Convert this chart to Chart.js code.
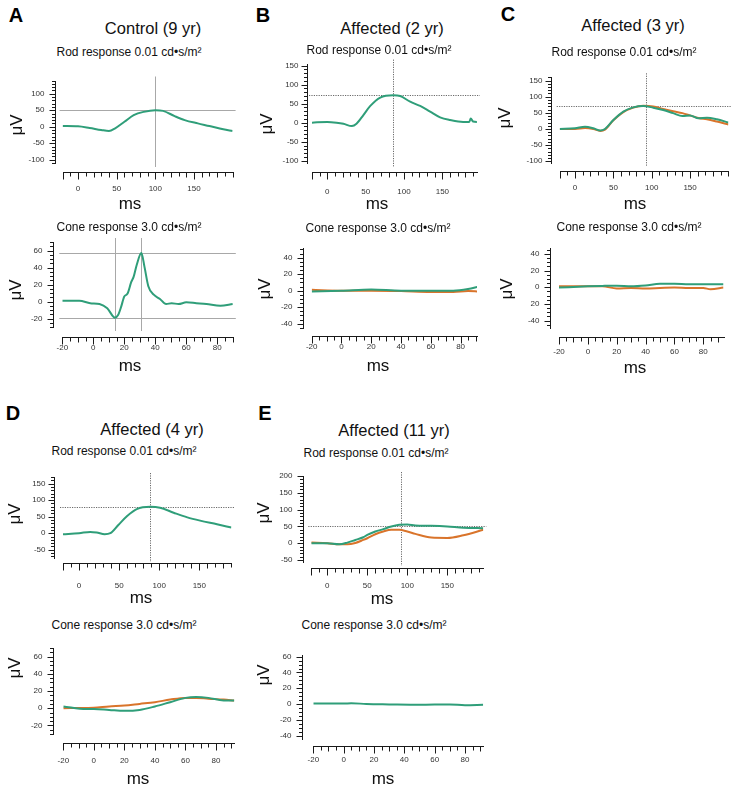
<!DOCTYPE html>
<html>
<head>
<meta charset="utf-8">
<script src="https://cdn.jsdelivr.net/npm/chart.js@4.4.0/dist/chart.umd.min.js"></script>
<style>
  body { margin: 0; background: #fff; width: 738px; height: 806px; position: relative; overflow: hidden;
         font-family: "Liberation Sans", Arial, Helvetica, sans-serif; color: #111; }
  canvas { position: absolute; }
  .lbl { position: absolute; white-space: nowrap; line-height: 1; transform: translate(-50%, -50%); }
  .letter { font-size: 20px; font-weight: bold; color: #000; }
  .title { font-size: 16.5px; }
  .sub { font-size: 12px; }
  .uv { font-size: 17px; transform: translate(-50%, -50%) rotate(-90deg); }
  .ms { font-size: 17px; }
</style>
</head>
<body>
<script>
// --- Data ---

// A: control, rod + cone
const aRodMs    = [-20, 0, 15, 30, 40, 48, 60, 72, 85, 100, 110, 125, 138, 155, 170, 188, 200];
const aRodGreen = [2, 1, -4, -10, -13, -5, 15, 35, 45, 50, 48, 32, 20, 10, 2, -8, -13];
const aConeMs    = [-20, -9, -2, 4, 9, 14, 16, 18, 20, 22, 24.5, 26, 28, 31, 33, 35.5, 39, 43, 47, 50.5, 55, 60, 66.5, 73, 82, 90];
const aConeGreen = [1, 1, -2, -3, -8, -19, -16, -6, 6, 9, 23, 29, 43, 57, 41, 18, 8, 3, -3, -2, -3, -1, -2, -3, -5, -3];

// B: affected 2 yr
const bRodMs    = [-20, 0, 12, 21, 32, 38, 47, 56, 69, 86, 95, 108, 121, 134, 147, 160, 177, 185, 187, 190, 196];
const bRodGreen = [0, 2, 0, -3, -9, -3, 20, 44, 66, 72, 70, 55, 44, 29, 14, 7, 2, 2, 11, 3, 2];
const bConeMs     = [-20, 0, 20, 40, 60, 75, 85, 92];
const bConeGreen  = [-1, 0, 1.5, 0, 0, 0, 2, 5];
const bConeOrange = [1, 0, 0, -0.5, -1.5, -1.5, -0.5, -1];

// C: affected 3 yr
const cRodMs     = [-20, 0, 13, 24, 33, 39, 50, 63, 76, 89, 102, 115, 128, 140, 150, 161, 172, 185, 200];
const cRodGreen  = [0, 2, 7, 2, -5, 0, 28, 54, 67, 71, 66, 59, 49, 40, 42, 33, 35, 30, 20];
const cRodOrange = [0, 0, 3, 0, -6, -2, 27, 52, 66, 72, 70, 62, 55, 49, 42, 34, 30, 23, 14];
const cConeMs     = [-20, 0, 10, 20, 30, 40, 50, 60, 70, 80, 85, 94];
const cConeGreen  = [-0.5, 1, 1.5, 1.8, 1, 2, 4, 4, 3.5, 3.5, 3.5, 3.5];
const cConeOrange = [1, 1, 1, -1.5, -1, -1.5, -1, -0.5, -1, -1, -2.5, -0.5];

// D: affected 4 yr
const dRodMs    = [-20, 0, 14, 22, 32, 39, 49, 60, 72, 89, 101, 118, 135, 151, 172, 190];
const dRodGreen = [-3, 0, 4, 2, -3, 0, 25, 52, 73, 80, 77, 62, 48, 38, 27, 17];
const dConeMs     = [-20, -5, 0, 10, 20, 30, 40, 50, 60, 67, 75, 85, 92];
const dConeGreen  = [2, -1, -1, -2, -3, -2, 2, 7, 12, 13, 12, 9, 9];
const dConeOrange = [0, 0.3, 0.5, 2, 3, 5, 7, 10, 12, 12, 11, 10, 9];

// E: affected 11 yr
const eRodMs     = [-20, 0, 15, 25, 35, 45, 50, 60, 70, 80, 90, 100, 110, 130, 150, 170, 195];
const eRodGreen  = [0, 0, -3, 2, 10, 18, 25, 35, 42, 50, 55, 56, 53, 52, 50, 46, 45];
const eRodOrange = [2, 0, -3, -3, 1, 10, 15, 27, 35, 40, 40, 35, 28, 17, 16, 24, 40];
const eConeMs    = [-20, 0, 5, 15, 30, 50, 70, 80, 92];
const eConeGreen = [0.5, 0.5, 1, 0, -0.5, -1, -0.5, -1.5, -1];

// crosshair markers (ms, µV)
const aRodCrossX = [100], aRodCrossY = [50];
const aConeCrossX = [14, 31], aConeCrossY = [57.5, -19];
const bRodCrossX = [86], bRodCrossY = [72];
const cRodCrossX = [92], cRodCrossY = [70];
const dRodCrossX = [89], dRodCrossY = [80];
const eRodCrossX = [92], eRodCrossY = [50];

// tick labels
const rodMsTicks  = [0, 50, 100, 150];
const coneMsTicks = [-20, 0, 20, 40, 60, 80];
const aRodUvTicks  = [-100, -50, 0, 50, 100];
const bRodUvTicks  = [-100, -50, 0, 50, 100, 150];
const cRodUvTicks  = [-100, -50, 0, 50, 100, 150];
const dRodUvTicks  = [-50, 0, 50, 100, 150];
const eRodUvTicks  = [-50, 0, 50, 100, 150, 200];
const aConeUvTicks = [-20, 0, 20, 40, 60];
const bConeUvTicks = [-40, -20, 0, 20, 40];
const cConeUvTicks = [-40, -20, 0, 20, 40];
const cConeUvText  = ['-40', '20', '0', '20', '40'];
const dConeUvTicks = [-20, 0, 20, 40, 60];
const eConeUvTicks = [-40, -20, 0, 20, 40, 60];

const GREEN = '#2f9e79';
const ORANGE = '#d9742b';

// --- axes / crosshair plugin ---
const crisp = v => Math.round(v) + 0.5;

const ergAxes = {
  id: 'ergAxes',
  beforeDatasetsDraw(chart, args, o) {
    const { ctx, chartArea: a, scales: { x, y } } = chart;
    ctx.save();
    ctx.strokeStyle = o.dotted ? '#444' : '#a8a8a8';
    ctx.lineWidth = o.dotted ? 0.8 : 1;
    ctx.setLineDash(o.dotted ? [1.2, 1.2] : []);
    (o.crossX || []).forEach(v => {
      const px = crisp(x.getPixelForValue(v));
      ctx.beginPath(); ctx.moveTo(px, a.top - 4); ctx.lineTo(px, a.bottom + 4); ctx.stroke();
    });
    (o.crossY || []).forEach(v => {
      const py = crisp(y.getPixelForValue(v));
      ctx.beginPath(); ctx.moveTo(a.left - 3, py); ctx.lineTo(a.right + 3, py); ctx.stroke();
    });
    ctx.restore();
  },
  afterDraw(chart, args, o) {
    const { ctx, scales: { x, y } } = chart;
    ctx.save();
    ctx.strokeStyle = '#1a1a1a';
    ctx.fillStyle = '#333';
    ctx.lineWidth = 1;
    ctx.font = '8px "Liberation Sans Narrow", "Liberation Sans", sans-serif';

    // y axis
    const ax = crisp(o.axX);
    const yTop = y.getPixelForValue(y.max), yBot = y.getPixelForValue(y.min);
    ctx.beginPath(); ctx.moveTo(ax, Math.round(yTop)); ctx.lineTo(ax, Math.round(yBot) + 1); ctx.stroke();
    const y0 = Math.ceil(y.min / o.yMinor) * o.yMinor;
    for (let v = y0; v <= y.max + 1e-6; v += o.yMinor) {
      const py = crisp(y.getPixelForValue(v));
      const major = o.yTicks.includes(v);
      ctx.beginPath(); ctx.moveTo(ax, py); ctx.lineTo(ax - (major ? 6 : 3.5), py); ctx.stroke();
    }
    ctx.textAlign = 'right'; ctx.textBaseline = 'middle';
    o.yTicks.forEach((v, i) => {
      const t = o.yText ? o.yText[i] : String(v);
      ctx.fillText(t, ax - o.yGap, y.getPixelForValue(v));
    });

    // x axis
    const ay = crisp(o.axY);
    const xL = x.getPixelForValue(x.min), xR = x.getPixelForValue(x.max);
    ctx.beginPath(); ctx.moveTo(Math.round(xL), ay); ctx.lineTo(Math.round(xR) + 1, ay); ctx.stroke();
    const x0 = Math.ceil(x.min / o.xMinor) * o.xMinor;
    for (let v = x0; v <= x.max + 1e-6; v += o.xMinor) {
      const px = crisp(x.getPixelForValue(v));
      const major = o.xTicks.includes(v) || v === x0;
      const mid = v % (o.xMinor * 2) === 0;
      ctx.beginPath(); ctx.moveTo(px, ay); ctx.lineTo(px, ay + (major ? 7 : mid ? 5 : 4)); ctx.stroke();
    }
    ctx.textAlign = 'center';
    o.xTicks.forEach(v => ctx.fillText(String(v), x.getPixelForValue(v), ay + o.labOff));
    ctx.restore();
  }
};

// --- panel geometry (page px) ---
const panels = [
  { xr: [-20, 200], px: [62.6, 232.6], yr: [-110, 140], py: [80.5, 163], axX: 55, axY: 172, labOff: 16, yGap: 11, xMinor: 10, yMinor: 10,
    ms: aRodMs, series: [aRodGreen], xTicks: rodMsTicks, yTicks: aRodUvTicks, crossX: aRodCrossX, crossY: aRodCrossY, dotted: false },
  { xr: [-20, 90], px: [62.3, 232.8], yr: [-30, 70], py: [242, 327], axX: 53.3, axY: 336.5, labOff: 10, yGap: 11, xMinor: 5, yMinor: 5,
    ms: aConeMs, series: [aConeGreen], xTicks: coneMsTicks, yTicks: aConeUvTicks, crossX: aConeCrossX, crossY: aConeCrossY, dotted: false },
  { xr: [-20, 195], px: [312, 476.9], yr: [-105, 155], py: [63.6, 162.7], axX: 306.7, axY: 171.7, labOff: 19, yGap: 9, xMinor: 10, yMinor: 10,
    ms: bRodMs, series: [bRodGreen], xTicks: rodMsTicks, yTicks: bRodUvTicks, crossX: bRodCrossX, crossY: bRodCrossY, dotted: true },
  { xr: [-20, 91], px: [311.7, 477], yr: [-45, 52], py: [247.8, 327.8], axX: 302.7, axY: 335.5, labOff: 10.5, yGap: 11, xMinor: 5, yMinor: 5,
    ms: bConeMs, series: [bConeGreen, bConeOrange], xTicks: coneMsTicks, yTicks: bConeUvTicks },
  { xr: [-20, 200], px: [559.7, 728.4], yr: [-105, 160], py: [77.3, 162.9], axX: 550.7, axY: 170.7, labOff: 16, yGap: 9, xMinor: 10, yMinor: 10,
    ms: cRodMs, series: [cRodGreen, cRodOrange], xTicks: rodMsTicks, yTicks: cRodUvTicks, crossX: cRodCrossX, crossY: cRodCrossY, dotted: true },
  { xr: [-20, 94], px: [559, 723.5], yr: [-49, 47], py: [248, 328], axX: 550, axY: 336.7, labOff: 14, yGap: 11, xMinor: 5, yMinor: 5,
    ms: cConeMs, series: [cConeGreen, cConeOrange], xTicks: coneMsTicks, yTicks: cConeUvTicks, yText: cConeUvText },
  { xr: [-20, 190], px: [63, 231.4], yr: [-75, 170], py: [477, 558], axX: 54, axY: 563.3, labOff: 22, yGap: 9, xMinor: 10, yMinor: 10,
    ms: dRodMs, series: [dRodGreen], xTicks: rodMsTicks, yTicks: dRodUvTicks, crossX: dRodCrossX, crossY: dRodCrossY, dotted: true },
  { xr: [-20, 92], px: [63.3, 234.3], yr: [-30, 70], py: [648, 734], axX: 53, axY: 743.3, labOff: 17, yGap: 11, xMinor: 5, yMinor: 5,
    ms: dConeMs, series: [dConeGreen, dConeOrange], xTicks: coneMsTicks, yTicks: dConeUvTicks },
  { xr: [-20, 195], px: [311.3, 483.3], yr: [-55, 200], py: [476, 561.8], axX: 303, axY: 568.3, labOff: 17, yGap: 11, xMinor: 10, yMinor: 10,
    ms: eRodMs, series: [eRodGreen, eRodOrange], xTicks: rodMsTicks, yTicks: eRodUvTicks, crossX: eRodCrossX, crossY: eRodCrossY, dotted: true },
  { xr: [-20, 92], px: [313.3, 483.2], yr: [-44, 62], py: [655.1, 738.7], axX: 302.3, axY: 746, labOff: 13, yGap: 11, xMinor: 5, yMinor: 5,
    ms: eConeMs, series: [eConeGreen], xTicks: coneMsTicks, yTicks: eConeUvTicks }
];

panels.forEach(p => {
  const cl = Math.floor(p.axX - 42), ct = Math.floor(p.py[0] - 10);
  const w = Math.ceil(p.px[1] + 8 - cl), h = Math.ceil(p.axY + p.labOff + 10 - ct);
  const cv = document.createElement('canvas');
  cv.width = w; cv.height = h;
  cv.style.left = cl + 'px'; cv.style.top = ct + 'px';
  cv.style.width = w + 'px'; cv.style.height = h + 'px';
  document.body.appendChild(cv);

  const colors = [GREEN, ORANGE];
  new Chart(cv, {
    type: 'line',
    data: {
      datasets: p.series.map((s, i) => ({
        data: p.ms.map((v, j) => ({ x: v, y: s[j] })),
        borderColor: colors[i],
        borderWidth: 2,
        pointRadius: 0,
        fill: false,
        cubicInterpolationMode: 'monotone'
      }))
    },
    options: {
      responsive: false,
      animation: false,
      events: [],
      devicePixelRatio: 1,
      layout: { padding: { left: p.px[0] - cl, right: cl + w - p.px[1], top: p.py[0] - ct, bottom: ct + h - p.py[1] } },
      plugins: {
        legend: { display: false },
        tooltip: { enabled: false },
        ergAxes: {
          axX: p.axX - cl, axY: p.axY - ct, labOff: p.labOff, yGap: p.yGap,
          xMinor: p.xMinor, yMinor: p.yMinor, xTicks: p.xTicks, yTicks: p.yTicks, yText: p.yText,
          crossX: p.crossX, crossY: p.crossY, dotted: p.dotted
        }
      },
      scales: {
        x: { type: 'linear', min: p.xr[0], max: p.xr[1], display: false },
        y: { min: p.yr[0], max: p.yr[1], display: false }
      }
    },
    plugins: [ergAxes]
  });
});

// --- text labels ---
const labels = [
  ['A', 16, 15, 'letter'], ['B', 263, 15, 'letter'], ['C', 508, 14, 'letter'], ['D', 13, 413, 'letter'], ['E', 265, 413, 'letter'],
  ['Control (9 yr)', 153, 28, 'title'], ['Affected (2 yr)', 392, 28, 'title'], ['Affected (3 yr)', 633, 25, 'title'],
  ['Affected (4 yr)', 152, 429, 'title'], ['Affected (11 yr)', 394, 430, 'title'],
  ['Rod response 0.01 cd•s/m²', 129, 52, 'sub'], ['Rod response 0.01 cd•s/m²', 379, 50, 'sub'], ['Rod response 0.01 cd•s/m²', 624, 52, 'sub'],
  ['Rod response 0.01 cd•s/m²', 124, 451, 'sub'], ['Rod response 0.01 cd•s/m²', 376, 453, 'sub'],
  ['Cone response 3.0 cd•s/m²', 129, 227, 'sub'], ['Cone response 3.0 cd•s/m²', 378, 228, 'sub'], ['Cone response 3.0 cd•s/m²', 629, 227, 'sub'],
  ['Cone response 3.0 cd•s/m²', 124, 625, 'sub'], ['Cone response 3.0 cd•s/m²', 374, 625, 'sub'],
  ['μV', 16, 125, 'uv'], ['μV', 15, 290, 'uv'], ['μV', 266, 124, 'uv'], ['μV', 264, 289, 'uv'], ['μV', 504, 118, 'uv'],
  ['μV', 506, 289, 'uv'], ['μV', 14, 514, 'uv'], ['μV', 14, 668, 'uv'], ['μV', 263, 513, 'uv'], ['μV', 263, 675, 'uv'],
  ['ms', 130, 203, 'ms'], ['ms', 377, 203, 'ms'], ['ms', 635, 203, 'ms'],
  ['ms', 130, 365, 'ms'], ['ms', 378, 365, 'ms'], ['ms', 635, 367, 'ms'],
  ['ms', 141, 597, 'ms'], ['ms', 138, 778, 'ms'], ['ms', 382, 598, 'ms'], ['ms', 383, 778, 'ms']
];
labels.forEach(([t, x, y, cls]) => {
  const d = document.createElement('div');
  d.className = 'lbl ' + cls;
  d.textContent = t;
  d.style.left = x + 'px';
  d.style.top = y + 'px';
  document.body.appendChild(d);
});
</script>
</body>
</html>
